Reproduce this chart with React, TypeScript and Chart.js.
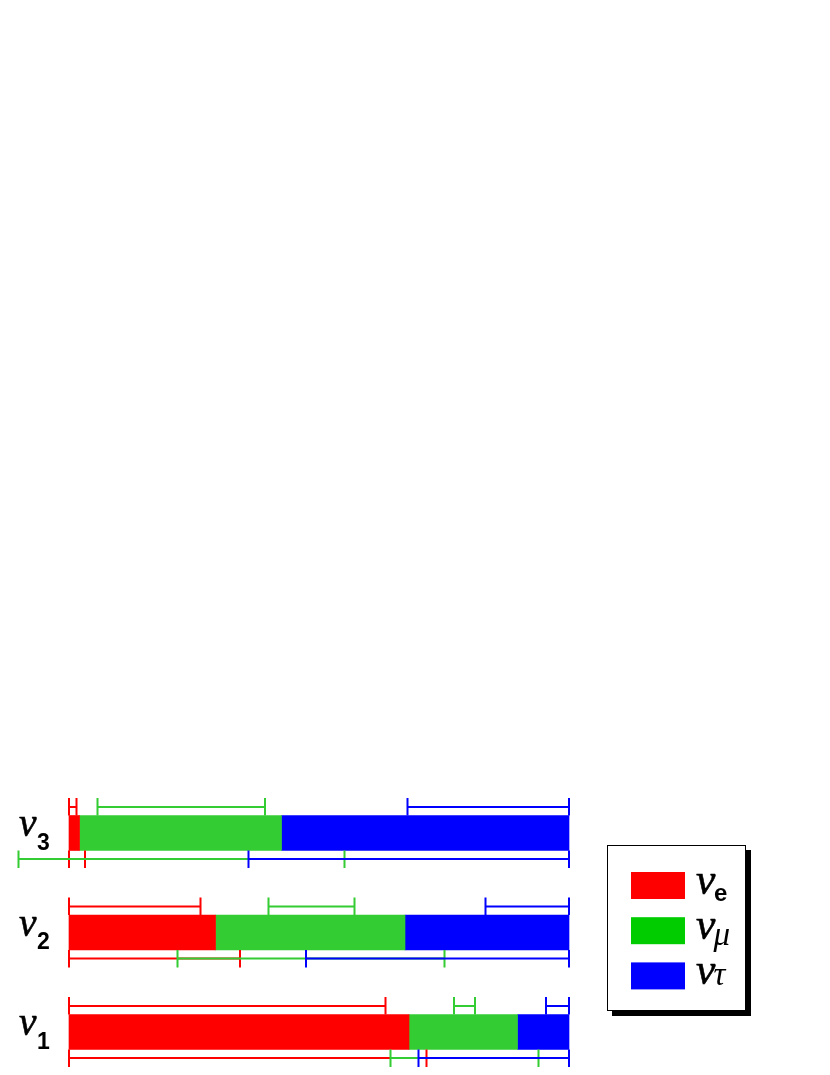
import React, { useEffect, useRef } from "react";
import { Chart, registerables } from "chart.js";

Chart.register(...registerables);

// Mass eigenstates (top to bottom) and flavours
const states = ["ν3", "ν2", "ν1"];
const stateSubscripts = ["3", "2", "1"];
const flavorLabels = ["e", "μ", "τ"];

// Best-fit flavour content of each mass eigenstate
const nuE = [0.021, 0.293, 0.68];
const nuMu = [0.404, 0.379, 0.217];
const nuTau = [0.575, 0.328, 0.103];

// Allowed ranges drawn above each bar
const eRangeUpper = [[0, 0.015], [0, 0.263], [0, 0.633]];
const muRangeUpper = [[0.057, 0.392], [0.399, 0.571], [0.77, 0.812]];
const tauRangeUpper = [[0.677, 1], [0.833, 1], [0.954, 1]];

// Allowed ranges drawn below each bar
const eRangeLower = [[0, 0.032], [0, 0.342], [0, 0.715]];
const muRangeLower = [[-0.101, 0.551], [0.217, 0.751], [0.643, 0.939]];
const tauRangeLower = [[0.359, 1], [0.474, 1], [0.699, 1]];

const barColors = ["#ff0000", "#33cc33", "#0000ff"];
const legendColors = ["#ff0000", "#00cc00", "#0000ff"];

const serifItalic = (s: number) => `italic ${s}px "Liberation Serif"`;

// draw a glyph so that its ink fits between top and bottom, with ink starting at left
function drawFit(ctx: any, text: string, left: number, top: number, bottom: number, stroke: number) {
  ctx.font = serifItalic(100);
  const m = ctx.measureText(text);
  const h = m.actualBoundingBoxAscent + m.actualBoundingBoxDescent;
  const size = (100 * (bottom - top)) / h;
  ctx.font = serifItalic(size);
  const m2 = ctx.measureText(text);
  const x = left + m2.actualBoundingBoxLeft;
  const y = bottom - m2.actualBoundingBoxDescent;
  ctx.fillText(text, x, y);
  if (stroke > 0) {
    ctx.lineWidth = stroke;
    ctx.strokeText(text, x, y);
  }
}

const bracketPlugin = {
  id: "brackets",
  afterDatasetsDraw(chart: any) {
    const ctx = chart.ctx;
    const xs = chart.scales.x;
    const ys = chart.scales.y;
    const upper = [eRangeUpper, muRangeUpper, tauRangeUpper];
    const lower = [eRangeLower, muRangeLower, tauRangeLower];
    const half = 17.5;
    ctx.save();
    ctx.lineWidth = 2;
    for (let f = 0; f < 3; f++) {
      ctx.strokeStyle = barColors[f];
      for (let i = 0; i < states.length; i++) {
        const yc = ys.getPixelForValue(i);
        const draw = (rng: number[], lineY: number, t0: number, t1: number) => {
          const a = xs.getPixelForValue(rng[0]);
          const b = xs.getPixelForValue(rng[1]);
          ctx.beginPath();
          ctx.moveTo(a, lineY);
          ctx.lineTo(b, lineY);
          ctx.moveTo(a, t0);
          ctx.lineTo(a, t1);
          ctx.moveTo(b, t0);
          ctx.lineTo(b, t1);
          ctx.stroke();
        };
        draw(upper[f][i], yc - 26, yc - 35, yc - half);
        draw(lower[f][i], yc + 26, yc + half, yc + 35);
      }
    }
    ctx.restore();
  },
};

const labelPlugin = {
  id: "stateLabels",
  afterDraw(chart: any) {
    const ctx = chart.ctx;
    const ys = chart.scales.y;
    ctx.save();
    ctx.fillStyle = "#000";
    ctx.strokeStyle = "#000";
    ctx.textAlign = "left";
    ctx.textBaseline = "alphabetic";
    for (let i = 0; i < states.length; i++) {
      const yc = ys.getPixelForValue(i);
      drawFit(ctx, "ν", 19, yc - 15.5, yc + 3, 0.6);
      ctx.font = 'bold 23px "Liberation Sans"';
      ctx.fillText(stateSubscripts[i], 37, yc + 16.5);
    }
    ctx.restore();
  },
};

const legendPlugin = {
  id: "flavorLegend",
  afterDraw(chart: any) {
    const ctx = chart.ctx;
    const bx = 607, by = 845, bw = 138, bh = 165;
    ctx.save();
    ctx.fillStyle = "#000";
    ctx.fillRect(bx + 5, by + 5, bw + 1, bh + 1);
    ctx.fillStyle = "#fff";
    ctx.fillRect(bx, by, bw, bh);
    ctx.strokeStyle = "#000";
    ctx.lineWidth = 1;
    ctx.strokeRect(bx + 0.5, by + 0.5, bw, bh);
    for (let f = 0; f < flavorLabels.length; f++) {
      const top = 872 + f * 45.2;
      ctx.fillStyle = legendColors[f];
      ctx.fillRect(631, top, 54, 27);
      const c = top + 13.5;
      ctx.fillStyle = "#000";
      ctx.strokeStyle = "#000";
      ctx.textAlign = "left";
      ctx.textBaseline = "alphabetic";
      drawFit(ctx, "ν", 696, c - 12.5, c + 8, 0.6);
      if (f === 0) {
        ctx.font = 'bold 24px "Liberation Sans"';
        ctx.fillText(flavorLabels[f], 714, c + 15);
      } else {
        ctx.font = serifItalic(33);
        ctx.fillText(flavorLabels[f], 713.5, c + (f === 1 ? 14 : 9.5));
      }
    }
    ctx.restore();
  },
};

export default function App() {
  const ref = useRef<HTMLCanvasElement | null>(null);
  useEffect(() => {
    if (!ref.current) return;
    const series = [nuE, nuMu, nuTau];
    const chart = new Chart(ref.current, {
      type: "bar",
      data: {
        labels: states,
        datasets: series.map((d, k) => ({
          label: "ν" + flavorLabels[k],
          data: d,
          backgroundColor: barColors[k],
          borderWidth: 0,
          barThickness: 35,
          clip: false as any,
        })),
      },
      options: {
        indexAxis: "y",
        responsive: false,
        animation: false,
        devicePixelRatio: 1,
        layout: { padding: { left: 69, right: 261, top: 833, bottom: 43 } },
        plugins: { legend: { display: false }, tooltip: { enabled: false } },
        scales: {
          x: { type: "linear", min: 0, max: 1, stacked: true, display: false },
          y: { type: "category", stacked: true, offset: false, display: false, grid: { offset: false } },
        },
      },
      plugins: [bracketPlugin, labelPlugin, legendPlugin],
    });
    return () => chart.destroy();
  }, []);
  return (
    <div style={{ position: "absolute", left: 0, top: 0, width: 830, height: 1075, background: "#fff" }}>
      <canvas ref={ref} width={830} height={1075} style={{ width: 830, height: 1075, display: "block" }} />
    </div>
  );
}
